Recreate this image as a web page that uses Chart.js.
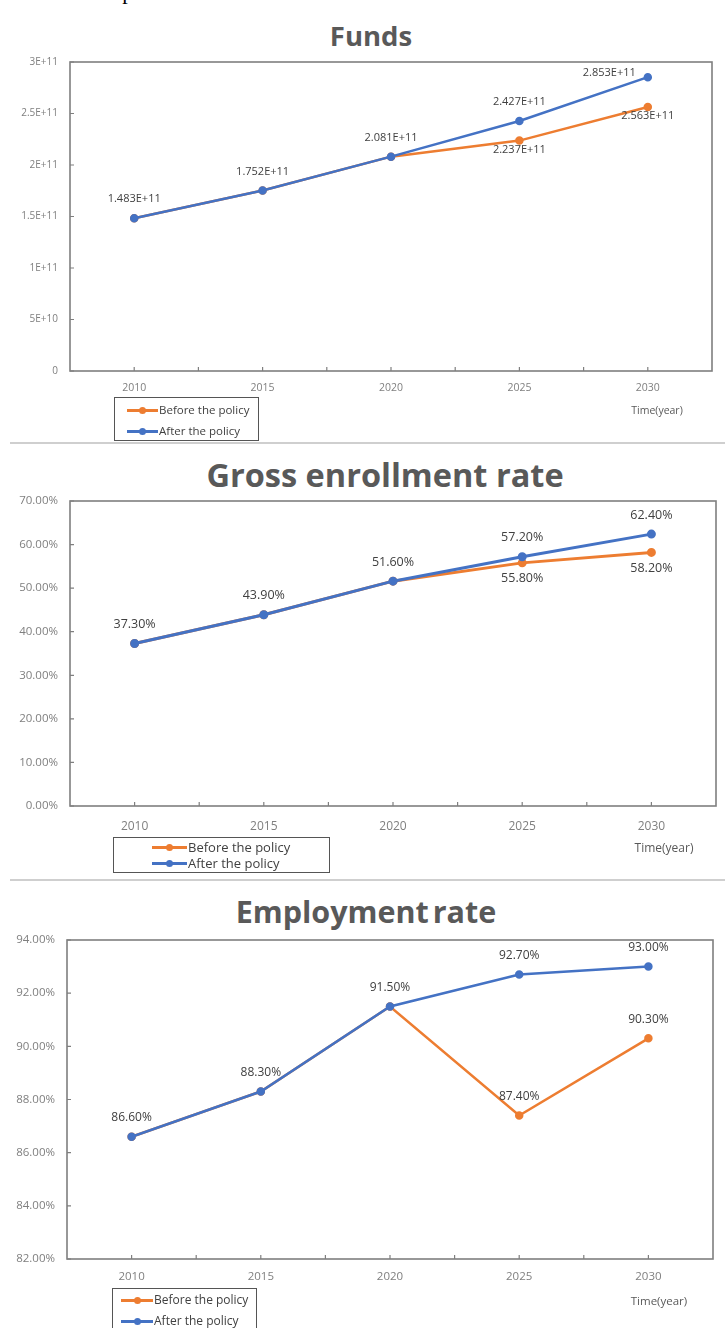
<!DOCTYPE html>
<html>
<head>
<meta charset="utf-8">
<title>Funds, enrollment and employment</title>
<script src="https://cdn.jsdelivr.net/npm/chart.js@4"></script>
<style>
  body { margin: 0; background: #fff; }
  #page { position: relative; width: 725px; height: 1328px; overflow: hidden; font-family: "Open Sans", "Liberation Sans", sans-serif; }
  canvas { position: absolute; left: 0; }
  .cut { position: absolute; left: 0; top: -21px; font: 22px "Liberation Serif", serif; color: #000; white-space: nowrap; }
  .title { position: absolute; transform: translateX(-50%); white-space: nowrap; font-weight: bold; color: #595959; line-height: 1; }
  .rule { position: absolute; left: 10px; right: 0; height: 2px; background: #cfcfcf; }
  .legend { position: absolute; border: 1.5px solid #555; box-sizing: border-box; color: #404040; }
  .legend div { position: absolute; white-space: nowrap; display: flex; align-items: center; line-height: 1; }
  .sw { position: relative; display: inline-block; height: 3px; margin-right: 1px; }
  .sw i { position: absolute; top: -2px; width: 7px; height: 7px; border-radius: 50%; background: inherit; }
  .time { position: absolute; color: #595959; transform: translate(-50%, -50%); white-space: nowrap; }
</style>
</head>
<body>
<div id="page">
  <div class="cut">for the development.</div>

  <div class="title" style="left:371px; top:22px; font-size:27.5px;">Funds</div>
  <canvas id="fundsChart" width="725" height="380" style="top:37px"></canvas>
  <div class="legend" id="fundsLegend"></div>
  <div class="time" style="left:657px; top:410px; font-size:10.5px;">Time(year)</div>
  <div class="rule" style="top:442px"></div>

  <div class="title" style="left:385px; top:459px; font-size:32.5px;">Gross enrollment rate</div>
  <canvas id="enrollChart" width="725" height="380" style="top:476px"></canvas>
  <div class="legend" id="enrollLegend"></div>
  <div class="time" style="left:664px; top:847px; font-size:12px;">Time(year)</div>
  <div class="rule" style="top:879px"></div>

  <div class="title" style="left:366px; top:896px; font-size:30.5px; word-spacing:-4px;">Employment rate</div>
  <canvas id="employChart" width="725" height="380" style="top:915px"></canvas>
  <div class="legend" id="employLegend"></div>
  <div class="time" style="left:659px; top:1300px; font-size:11.5px;">Time(year)</div>
</div>

<script>
const years = ["2010", "2015", "2020", "2025", "2030"];
const seriesNames = ["Before the policy", "After the policy"];
const seriesColors = ["#ED7D31", "#4472C4"];

const fundsBefore = [1.483e11, 1.752e11, 2.081e11, 2.237e11, 2.563e11];
const fundsAfter = [1.483e11, 1.752e11, 2.081e11, 2.427e11, 2.853e11];
const fundsTicks = [0, 5e10, 1e11, 1.5e11, 2e11, 2.5e11, 3e11];

const enrollBefore = [37.3, 43.9, 51.6, 55.8, 58.2];
const enrollAfter = [37.3, 43.9, 51.6, 57.2, 62.4];
const enrollTicks = [0, 10, 20, 30, 40, 50, 60, 70];

const employBefore = [86.6, 88.3, 91.5, 87.4, 90.3];
const employAfter = [86.6, 88.3, 91.5, 92.7, 93.0];
const employTicks = [82, 84, 86, 88, 90, 92, 94];

const sci = (v) => (v === 0 ? "0" : v.toExponential().replace("e", "E"));
const sci3 = (v) => v.toExponential(3).replace("e", "E");
const pct = (v) => v.toFixed(2) + "%";

const CANVAS_H = 380;

// box around the plot area plus small inward tick marks
const plotFrame = {
  id: "plotFrame",
  beforeDatasetsDraw(chart) {
    const { ctx, chartArea: a, scales } = chart;
    ctx.save();
    ctx.strokeStyle = "#7f7f7f";
    ctx.lineWidth = 1.6;
    ctx.strokeRect(a.left, a.top, a.right - a.left, a.bottom - a.top);
    ctx.lineWidth = 1.2;
    ctx.beginPath();
    scales.y.ticks.forEach((t) => {
      const y = scales.y.getPixelForValue(t.value);
      ctx.moveTo(a.left, y);
      ctx.lineTo(a.left + 4, y);
    });
    const step = (scales.x.getPixelForValue(1) - scales.x.getPixelForValue(0)) / 2;
    for (let i = 0; i < chart.data.labels.length; i++) {
      const x = scales.x.getPixelForValue(i);
      [x, x + step].forEach((px) => {
        if (px < a.right - 1) {
          ctx.moveTo(px, a.bottom);
          ctx.lineTo(px, a.bottom - 4);
        }
      });
    }
    ctx.stroke();
    ctx.restore();
  },
};

// value tags next to the points; the "before" line is only tagged where it leaves the "after" line
const valueTags = {
  id: "valueTags",
  afterDatasetsDraw(chart, args, opts) {
    const { ctx, chartArea: a } = chart;
    const sets = chart.data.datasets;
    ctx.save();
    ctx.font = opts.font;
    ctx.fillStyle = "#404040";
    ctx.textAlign = "center";
    ctx.textBaseline = "middle";
    sets.forEach((ds, i) => {
      const meta = chart.getDatasetMeta(i);
      meta.data.forEach((pt, j) => {
        const v = ds.data[j];
        if (ds.tagOnlyIfDiffers && sets.some((o) => o !== ds && o.data[j] === v)) return;
        const text = opts.format(v);
        let x = pt.x;
        let y = ds.tagSide === "below" ? pt.y + opts.below : pt.y - opts.above;
        if (y < a.top + 3) {
          x = pt.x - ctx.measureText(text).width / 2 - 12;
          y = pt.y - 4;
        }
        ctx.fillText(text, x, y);
      });
    });
    ctx.restore();
  },
};

function makeLegend(id, box) {
  const el = document.getElementById(id);
  el.style.left = box.left + "px";
  el.style.top = box.top + "px";
  el.style.width = box.width + "px";
  el.style.height = box.height + "px";
  seriesNames.forEach((name, i) => {
    const row = document.createElement("div");
    row.style.left = box.swatchX + "px";
    row.style.top = box.rows[i] - 7 + "px";
    row.style.height = "14px";
    row.style.fontSize = box.fontSize + "px";
    const sw = document.createElement("span");
    sw.className = "sw";
    sw.style.width = box.swatchW + "px";
    sw.style.background = seriesColors[i];
    const dot = document.createElement("i");
    dot.style.left = box.swatchW / 2 - 3.5 + "px";
    sw.appendChild(dot);
    row.appendChild(sw);
    row.appendChild(document.createTextNode(name));
    el.appendChild(row);
  });
}

function makeChart(id, before, after, ticks, cfg) {
  const canvas = document.getElementById(id);
  return new Chart(canvas, {
    type: "line",
    data: {
      labels: years,
      datasets: [
        {
          label: seriesNames[0],
          data: before,
          borderColor: seriesColors[0],
          backgroundColor: seriesColors[0],
          borderWidth: cfg.lineWidth,
          pointRadius: 3,
          order: 1,
          tagOnlyIfDiffers: true,
          tagSide: cfg.beforeSide,
        },
        {
          label: seriesNames[1],
          data: after,
          borderColor: seriesColors[1],
          backgroundColor: seriesColors[1],
          borderWidth: cfg.lineWidth,
          pointRadius: 3,
          order: 0,
          tagSide: "above",
        },
      ],
    },
    options: {
      responsive: false,
      animation: false,
      events: [],
      layout: {
        autoPadding: false,
        padding: { left: 0, top: 25, right: 725 - cfg.right, bottom: 0 },
      },
      scales: {
        x: {
          type: "category",
          offset: true,
          grid: { display: false, drawTicks: false },
          border: { display: false },
          ticks: { color: "#7f7f7f", font: { size: cfg.xFont, family: "Open Sans" }, padding: cfg.xPad, maxRotation: 0 },
          afterFit: (scale) => { scale.height = CANVAS_H - cfg.bottom; },
        },
        y: {
          min: ticks[0],
          max: ticks[ticks.length - 1],
          grid: { display: false, drawTicks: false },
          border: { display: false },
          ticks: { color: "#7f7f7f", font: { size: cfg.yFont, family: "Open Sans" }, padding: 12, callback: cfg.tickFormat },
          afterBuildTicks: (scale) => { scale.ticks = ticks.map((v) => ({ value: v })); },
          afterFit: (scale) => { scale.width = cfg.left; },
        },
      },
      plugins: {
        legend: { display: false },
        tooltip: { enabled: false },
        valueTags: { font: cfg.tagFont, format: cfg.tagFormat, above: cfg.above, below: cfg.below },
      },
    },
    plugins: [plotFrame, valueTags],
  });
}

// each canvas starts 25px above its plot box; bottom edges are in canvas pixels
makeChart("fundsChart", fundsBefore, fundsAfter, fundsTicks, {
  left: 70, right: 712, bottom: 334,
  lineWidth: 2.5, xFont: 10.5, yFont: 10, xPad: 11,
  tickFormat: sci, tagFormat: sci3, tagFont: "11px 'Open Sans'",
  beforeSide: "below", above: 19, below: 9,
});
makeChart("enrollChart", enrollBefore, enrollAfter, enrollTicks, {
  left: 70, right: 716, bottom: 330,
  lineWidth: 3, xFont: 12, yFont: 11.5, xPad: 13,
  tickFormat: pct, tagFormat: pct, tagFont: "12.5px 'Open Sans'",
  beforeSide: "below", above: 19, below: 16,
});
makeChart("employChart", employBefore, employAfter, employTicks, {
  left: 67, right: 713, bottom: 344,
  lineWidth: 2.5, xFont: 11.5, yFont: 11.5, xPad: 11,
  tickFormat: pct, tagFormat: pct, tagFont: "12px 'Open Sans'",
  beforeSide: "above", above: 19, below: 16,
});

makeLegend("fundsLegend", { left: 114, top: 397, width: 145, height: 44, rows: [12, 33], swatchX: 12, swatchW: 31, fontSize: 11.5 });
makeLegend("enrollLegend", { left: 113, top: 837, width: 217, height: 36, rows: [9, 25], swatchX: 38, swatchW: 35, fontSize: 13 });
makeLegend("employLegend", { left: 112, top: 1288, width: 145, height: 46, rows: [11, 32], swatchX: 8, swatchW: 32, fontSize: 12 });
</script>
</body>
</html>
